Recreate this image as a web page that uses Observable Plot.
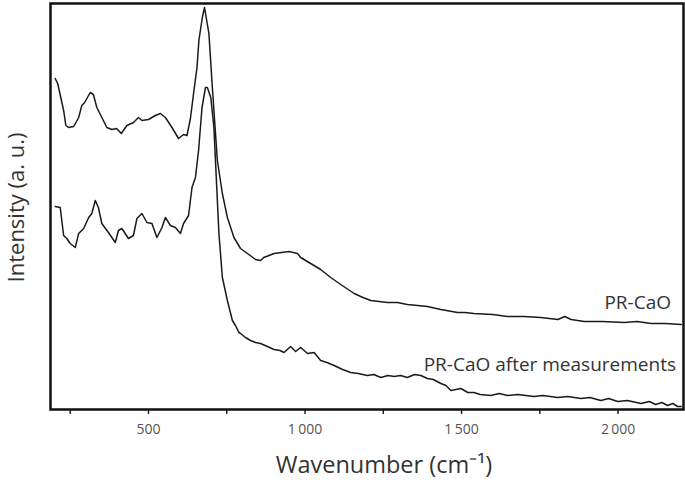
<!DOCTYPE html>
<html>
<head>
<meta charset="utf-8">
<script src="https://cdn.jsdelivr.net/npm/d3@7"></script>
<script src="https://cdn.jsdelivr.net/npm/@observablehq/plot@0.6"></script>
<style>
  html, body { margin: 0; padding: 0; background: #fff; }
  #chart { width: 685px; height: 480px; }
</style>
</head>
<body>
<div id="chart"></div>
<script>
// PR-CaO spectrum (wavenumber cm-1, intensity a.u.)
const wnA = [202,210,229,236,245,261,277,287,296,314,324,335,351,367,383,398,413,431,452,468,479,500,522,538,554,575,596,612,623,634,644,655,661,672,679,693,704,720,736,752,773,794,816,842,858,868,885,901,925,949,976,986,1018,1050,1082,1114,1157,1185,1210,1263,1295,1327,1360,1391,1434,1487,1510,1540,1600,1647,1700,1753,1808,1830,1850,1892,1950,2020,2060,2106,2150,2202];
const intA = [331,326,299,284,282,283,292,304,307,317,315,302,292,282,280,281,276,284,287,292,289,290,294,296,292,282,271,275,274,291,316,342,369,392,402,376,322,249,216,192,172,161,156,150,149,152,154,156,157,158,156,152,146,140,132,125,116,112,109,107,107,105,104,103,100,97,97,96,95,93,93,92,90,93,90,88,88,87,88,86,86,85];

// PR-CaO after measurements
const wnB = [202,218,229,239,250,266,277,293,309,319,330,340,351,372,394,404,415,436,452,463,479,495,511,527,543,554,570,586,602,612,628,639,650,660,671,682,688,699,709,715,725,736,752,768,778,789,794,810,826,842,858,880,901,920,933,954,970,986,1008,1029,1050,1070,1093,1120,1146,1170,1199,1220,1242,1265,1285,1305,1327,1350,1370,1391,1410,1434,1450,1466,1498,1520,1539,1560,1594,1620,1647,1680,1731,1760,1807,1840,1881,1910,1945,1970,1999,2030,2073,2100,2120,2140,2158,2175,2190,2202];
const intB = [203,202,174,171,166,162,176,181,192,196,209,202,186,177,167,179,181,171,174,191,196,187,186,172,182,192,184,182,176,186,194,222,232,259,302,322,322,312,282,242,176,132,109,89,84,77,76,72,69,67,66,63,60,59,57,63,58,62,56,57,49,47,44,40,37,36,34,35,32,34,33,34,32,35,34,31,30,26,24,19,21,17,17,15,14,16,14,15,13,14,12,13,11,12,9,11,8,9,6,8,5,7,4,6,3,3];

const labels = ["PR-CaO", "PR-CaO after measurements"];
const labelX = [2169, 2185];
const labelY = [107, 45];

const xTicks = [250, 500, 750, 1000, 1250, 1500, 1750, 2000];
const xTitle = "Wavenumber (cm\u207B\u00B9)";
const yTitle = "Intensity (a. u.)";

const seriesA = wnA.map((w, i) => ({w, v: intA[i]}));
const seriesB = wnB.map((w, i) => ({w, v: intB[i]}));
const labelData = labels.map((t, i) => ({t, x: labelX[i], y: labelY[i]}));

const fmt = d => d % 500 === 0 ? (d >= 1000 ? Math.floor(d/1000) + "\u2009" + String(d % 1000).padStart(3, "0") : String(d)) : "";

const chart = Plot.plot({
  width: 685,
  height: 480,
  marginLeft: 50,
  marginRight: 2,
  marginTop: 3,
  marginBottom: 71,
  style: {fontFamily: "'Open Sans', sans-serif", background: "#fff"},
  x: {domain: [187, 2209]},
  y: {domain: [0, 406], axis: null},
  marks: [
    Plot.axisX({ticks: xTicks, tickSize: 5, tickPadding: 10, tickFormat: fmt, label: null, fontSize: 14, color: "#555", stroke: "#222", strokeWidth: 1.5}),
    Plot.lineY(seriesA, {x: "w", y: "v", stroke: "#1a1a1a", strokeWidth: 1.5}),
    Plot.lineY(seriesB, {x: "w", y: "v", stroke: "#1a1a1a", strokeWidth: 1.5}),
    Plot.text(labelData, {x: "x", y: "y", text: "t", textAnchor: "end", lineAnchor: "middle", fontSize: 19, fill: "#333"}),
    Plot.text([xTitle], {frameAnchor: "bottom", textAnchor: "middle", dx: 17, dy: 56, fontSize: 23.5, fill: "#333", lineAnchor: "middle"}),
    Plot.text([yTitle], {frameAnchor: "left", textAnchor: "middle", rotate: -90, dx: -34, dy: 1, fontSize: 22, fill: "#333", lineAnchor: "middle"}),
    Plot.frame({stroke: "#111", strokeWidth: 2.5})
  ]
});
document.getElementById("chart").appendChild(chart);
</script>
</body>
</html>
